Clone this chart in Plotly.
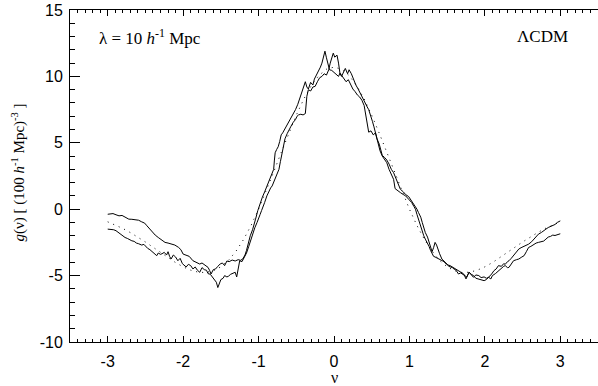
import plotly.graph_objects as go

# Two noisy measured curves (A, B) and the theory curve (dotted)
a_nu = [-3.00,-2.96,-2.93,-2.89,-2.85,-2.81,-2.77,-2.72,-2.68,-2.64,-2.59,-2.55,-2.51,-2.48,-2.44,-2.41,-2.37,-2.33,-2.29,-2.24,
        -2.20,-2.15,-2.11,-2.06,-2.03,-2.00,-1.96,-1.92,-1.87,-1.83,-1.78,-1.75,-1.72,-1.69,-1.67,-1.65,-1.63,-1.60,-1.57,-1.54,
        -1.51,-1.48,-1.45,-1.42,-1.39,-1.35,-1.31,-1.27,-1.24,-1.21,-1.18,-1.16,-1.14,-1.11,-1.08,-1.06,-1.04,-1.01,-0.99,-0.97,
        -0.95,-0.92,-0.89,-0.86,-0.83,-0.80,-0.79,-0.78,-0.76,-0.74,-0.72,-0.70,-0.68,-0.66,-0.63,-0.60,-0.57,-0.54,-0.51,-0.48,
        -0.45,-0.42,-0.40,-0.38,-0.36,-0.34,-0.31,-0.28,-0.26,-0.23,-0.20,-0.18,-0.16,-0.14,-0.12,-0.10,-0.08,-0.06,-0.03,0.00,
        0.03,0.06,0.08,0.10,0.13,0.16,0.19,0.22,0.25,0.28,0.31,0.34,0.37,0.40,0.42,0.44,0.46,0.49,0.52,0.55,
        0.58,0.61,0.64,0.67,0.70,0.73,0.76,0.79,0.81,0.84,0.88,0.92,0.95,0.99,1.03,1.06,1.08,1.10,1.12,1.15,
        1.17,1.19,1.21,1.24,1.26,1.28,1.30,1.32,1.34,1.37,1.39,1.41,1.43,1.46,1.48,1.50,1.52,1.55,1.57,1.59,
        1.61,1.63,1.65,1.68,1.72,1.76,1.79,1.82,1.85,1.88,1.92,1.95,1.99,2.02,2.05,2.08,2.10,2.14,2.18,2.22,
        2.25,2.27,2.30,2.32,2.35,2.38,2.42,2.45,2.49,2.52,2.55,2.58,2.61,2.65,2.68,2.71,2.75,2.78,2.81,2.84,
        2.87,2.90,2.93,2.96,3.00]
a_g = [-0.38,-0.35,-0.33,-0.42,-0.50,-0.47,-0.60,-0.75,-0.76,-0.80,-0.83,-0.95,-1.05,-1.25,-1.50,-1.75,-1.95,-2.13,-2.30,-2.50,
       -2.55,-2.63,-2.70,-2.88,-3.05,-3.38,-3.45,-3.55,-3.88,-4.00,-4.13,-4.05,-4.15,-4.30,-4.38,-4.60,-4.88,-4.55,-4.50,-4.30,
       -4.13,-4.05,-4.25,-3.90,-3.95,-3.83,-3.90,-3.80,-3.85,-3.75,-3.45,-3.10,-2.60,-2.00,-1.55,-1.20,-0.75,-0.10,0.30,0.55,
       0.90,1.30,1.75,2.15,2.60,3.00,3.70,4.25,4.50,4.70,5.10,5.60,5.75,5.95,6.30,6.60,6.85,7.25,7.50,7.90,
       8.40,8.90,9.40,9.60,9.20,9.05,9.55,9.35,9.80,10.10,10.40,10.70,11.00,11.40,11.90,11.40,10.80,10.50,10.45,10.30,
       10.15,10.00,10.25,10.10,9.90,9.60,9.75,9.40,9.05,8.85,8.60,8.45,8.20,7.80,7.20,6.40,5.80,5.90,5.60,5.75,
       5.00,4.40,4.00,3.70,3.50,3.00,2.60,2.25,1.55,1.40,1.25,1.10,1.00,0.75,0.50,0.20,0.00,-0.40,-0.75,-1.30,
       -1.75,-2.00,-2.25,-2.55,-2.80,-3.10,-3.40,-3.55,-3.60,-3.70,-3.75,-3.80,-3.85,-3.95,-4.10,-4.15,-4.30,-4.35,-4.40,-4.50,
       -4.55,-4.70,-4.88,-4.80,-4.95,-5.10,-4.75,-4.95,-5.13,-4.95,-5.00,-5.15,-5.10,-5.20,-5.13,-5.25,-5.00,-4.85,-4.63,-4.45,
       -4.30,-4.25,-4.40,-4.38,-4.10,-3.88,-3.80,-3.75,-3.60,-3.50,-3.20,-2.88,-2.80,-2.63,-2.55,-2.50,-2.45,-2.40,-2.25,-2.10,
       -2.05,-1.95,-1.98,-1.90,-1.85]

b_nu = [-3.00,-2.96,-2.92,-2.89,-2.85,-2.81,-2.77,-2.74,-2.71,-2.68,-2.65,-2.62,-2.59,-2.55,-2.52,-2.50,-2.47,-2.44,-2.41,-2.38,
        -2.35,-2.33,-2.30,-2.28,-2.25,-2.22,-2.20,-2.18,-2.16,-2.13,-2.10,-2.07,-2.04,-2.01,-1.98,-1.96,-1.93,-1.90,-1.87,-1.84,
        -1.81,-1.78,-1.75,-1.72,-1.69,-1.67,-1.64,-1.61,-1.59,-1.56,-1.54,-1.52,-1.50,-1.47,-1.45,-1.42,-1.40,-1.37,-1.34,-1.31,
        -1.29,-1.27,-1.25,-1.22,-1.20,-1.18,-1.16,-1.13,-1.11,-1.09,-1.07,-1.05,-1.02,-1.00,-0.98,-0.96,-0.94,-0.92,-0.89,-0.86,
        -0.84,-0.82,-0.79,-0.76,-0.73,-0.71,-0.69,-0.67,-0.65,-0.62,-0.60,-0.57,-0.54,-0.51,-0.49,-0.47,-0.44,-0.41,-0.38,-0.37,
        -0.36,-0.34,-0.31,-0.28,-0.25,-0.22,-0.19,-0.16,-0.13,-0.10,-0.07,-0.05,-0.03,-0.01,0.01,0.04,0.06,0.08,0.10,0.12,
        0.15,0.18,0.20,0.23,0.26,0.29,0.32,0.35,0.38,0.41,0.44,0.46,0.48,0.51,0.53,0.55,0.57,0.60,0.62,0.64,
        0.67,0.70,0.73,0.76,0.79,0.83,0.86,0.88,0.92,0.95,0.99,1.03,1.06,1.08,1.10,1.12,1.15,1.17,1.19,1.21,
        1.24,1.26,1.28,1.30,1.32,1.34,1.36,1.38,1.40,1.43,1.46,1.48,1.51,1.54,1.57,1.59,1.62,1.65,1.68,1.72,
        1.75,1.77,1.79,1.82,1.85,1.88,1.92,1.95,1.99,2.02,2.05,2.09,2.12,2.15,2.18,2.22,2.25,2.27,2.30,2.32,
        2.35,2.38,2.42,2.45,2.48,2.52,2.55,2.58,2.62,2.65,2.68,2.71,2.75,2.78,2.81,2.84,2.87,2.90,2.93,2.96,
        3.00]
b_g = [-1.50,-1.52,-1.55,-1.62,-1.80,-1.95,-2.13,-2.20,-2.30,-2.38,-2.42,-2.55,-2.60,-2.70,-2.65,-2.80,-2.95,-3.05,-3.20,-3.30,
       -3.50,-3.30,-3.40,-3.35,-3.25,-3.45,-3.20,-3.55,-3.75,-3.45,-3.60,-3.88,-3.70,-4.10,-4.25,-4.35,-4.15,-4.25,-4.50,-4.35,
       -4.60,-4.75,-4.40,-4.55,-4.60,-4.85,-4.90,-5.10,-5.25,-5.50,-5.90,-5.60,-5.30,-5.20,-5.00,-5.10,-5.05,-4.90,-4.85,-4.75,
       -5.10,-4.30,-3.88,-3.95,-3.75,-3.55,-3.30,-2.80,-2.40,-2.00,-1.70,-1.40,-1.00,-0.75,-0.40,-0.10,0.30,0.50,1.00,1.40,
       1.60,1.75,2.20,2.60,3.00,3.60,4.25,4.90,5.30,5.70,5.95,6.25,6.55,6.75,7.00,7.10,7.15,7.10,7.20,8.00,
       8.50,9.00,8.90,9.20,9.25,9.60,9.90,10.00,10.20,10.10,10.50,11.00,11.50,11.75,11.45,11.60,11.00,10.20,10.00,10.30,
       10.60,10.20,10.50,10.20,9.75,9.35,9.05,8.70,8.35,7.95,7.70,7.50,7.05,6.60,6.20,5.75,5.30,4.90,4.40,4.05,
       3.90,3.70,3.40,3.00,2.75,2.20,1.80,1.50,1.30,1.10,0.95,0.60,0.40,0.25,0.00,-0.25,-0.60,-1.00,-1.40,-1.75,
       -2.10,-2.50,-2.85,-3.20,-2.90,-2.50,-2.70,-3.10,-3.35,-3.75,-3.90,-4.00,-4.20,-4.25,-4.35,-4.45,-4.55,-4.63,-4.75,-4.88,
       -5.25,-5.00,-4.75,-4.90,-5.00,-5.20,-5.25,-5.30,-5.38,-5.30,-5.13,-4.88,-4.63,-4.50,-4.25,-4.30,-4.10,-4.15,-3.95,-3.88,
       -3.70,-3.50,-3.25,-3.00,-2.90,-2.80,-2.70,-2.63,-2.45,-2.25,-2.05,-1.88,-1.75,-1.60,-1.50,-1.38,-1.30,-1.20,-1.15,-1.00,
       -0.88]

t_nu = [-3.0,-2.9,-2.8,-2.7,-2.6,-2.5,-2.4,-2.3,-2.2,-2.1,-2.0,-1.9,-1.8,-1.7,-1.6,-1.5,-1.4,-1.3,-1.2,-1.1,
        -1.0,-0.9,-0.8,-0.7,-0.6,-0.5,-0.4,-0.3,-0.2,-0.1,0.0,0.1,0.2,0.3,0.4,0.5,0.6,0.7,0.8,0.9,
        1.0,1.1,1.2,1.3,1.4,1.5,1.6,1.7,1.8,1.9,2.0,2.1,2.2,2.3,2.4,2.5,2.6,2.7,2.8,2.9,3.0]
t_g = [-0.95,-1.18,-1.45,-1.76,-2.10,-2.47,-2.86,-3.26,-3.65,-4.02,-4.34,-4.59,-4.74,-4.77,-4.64,-4.34,-3.86,-3.17,-2.29,-1.23,
       0.00,1.36,2.80,4.27,5.72,7.08,8.30,9.31,10.07,10.54,10.70,10.54,10.07,9.31,8.30,7.08,5.72,4.27,2.80,1.36,
       0.00,-1.23,-2.29,-3.17,-3.86,-4.34,-4.64,-4.77,-4.74,-4.59,-4.34,-4.02,-3.65,-3.26,-2.86,-2.47,-2.10,-1.76,-1.45,-1.18,-0.95]

x_ticks = [-3, -2, -1, 0, 1, 2, 3]
y_ticks = [-10, -5, 0, 5, 10, 15]

SERIF = "Liberation Serif, Times New Roman, serif"
SANS = "Liberation Sans, Arial, Helvetica, sans-serif"

fig = go.Figure()
fig.add_trace(go.Scatter(x=t_nu, y=t_g, mode="lines",
                         line=dict(color="black", width=1, dash="1px,5px"), showlegend=False))
fig.add_trace(go.Scatter(x=a_nu, y=a_g, mode="lines",
                         line=dict(color="black", width=1), showlegend=False))
fig.add_trace(go.Scatter(x=b_nu, y=b_g, mode="lines",
                         line=dict(color="black", width=1), showlegend=False))

fig.update_layout(
    width=598, height=386,
    margin=dict(l=70, r=0, t=10, b=44),
    paper_bgcolor="white", plot_bgcolor="white",
    font=dict(family=SANS, size=15, color="black"),
    xaxis=dict(range=[-3.5, 3.5], tickvals=x_ticks, ticktext=[str(v) for v in x_ticks],
               ticks="inside", ticklen=6, tickwidth=1, tickcolor="black",
               minor=dict(dtick=0.1, tick0=0, ticks="inside", ticklen=3, tickcolor="black"),
               showline=True, linecolor="black", linewidth=1, mirror="ticks",
               showgrid=False, zeroline=False, ticklabelstandoff=5,
               tickfont=dict(family=SANS, size=16)),
    yaxis=dict(range=[-10, 15], tickvals=y_ticks, ticktext=[str(v) for v in y_ticks],
               ticks="inside", ticklen=10, tickwidth=1, tickcolor="black",
               minor=dict(dtick=1, tick0=0, ticks="inside", ticklen=5, tickcolor="black"),
               showline=True, linecolor="black", linewidth=1, mirror=False,
               showgrid=False, zeroline=False, ticklabelstandoff=3,
               tickfont=dict(family=SANS, size=16)),
    yaxis2=dict(range=[-10, 15], overlaying="y", side="right", tickvals=y_ticks,
                ticks="inside", ticklen=10, tickwidth=1, tickcolor="black",
                minor=dict(dtick=1, tick0=0, ticks="inside", ticklen=5, tickcolor="black"),
                showline=False, showticklabels=False, showgrid=False, zeroline=False),
)

fig.add_annotation(xref="paper", yref="paper", x=0.051, y=0.919, xanchor="left", yanchor="middle",
                   text="λ = 10 <i>h</i><sup>-1</sup> Mpc", showarrow=False,
                   font=dict(family=SERIF, size=17, color="black"))
fig.add_annotation(xref="paper", yref="paper", x=0.947, y=0.919, xanchor="right", yanchor="middle",
                   text="ΛCDM", showarrow=False,
                   font=dict(family=SERIF, size=17, color="black"))
fig.add_annotation(xref="paper", yref="paper", x=-0.097, y=0.51, xanchor="center", yanchor="middle",
                   textangle=-90, text="<i>g</i>(ν) [ (100 <i>h</i><sup>-1</sup> Mpc)<sup>-3</sup> ]",
                   showarrow=False, font=dict(family=SERIF, size=15, color="black"))
fig.add_annotation(xref="paper", yref="paper", x=0.5, y=-0.106, xanchor="center", yanchor="middle",
                   text="ν", showarrow=False, font=dict(family=SERIF, size=16, color="black"))

fig.write_html("out.html")
